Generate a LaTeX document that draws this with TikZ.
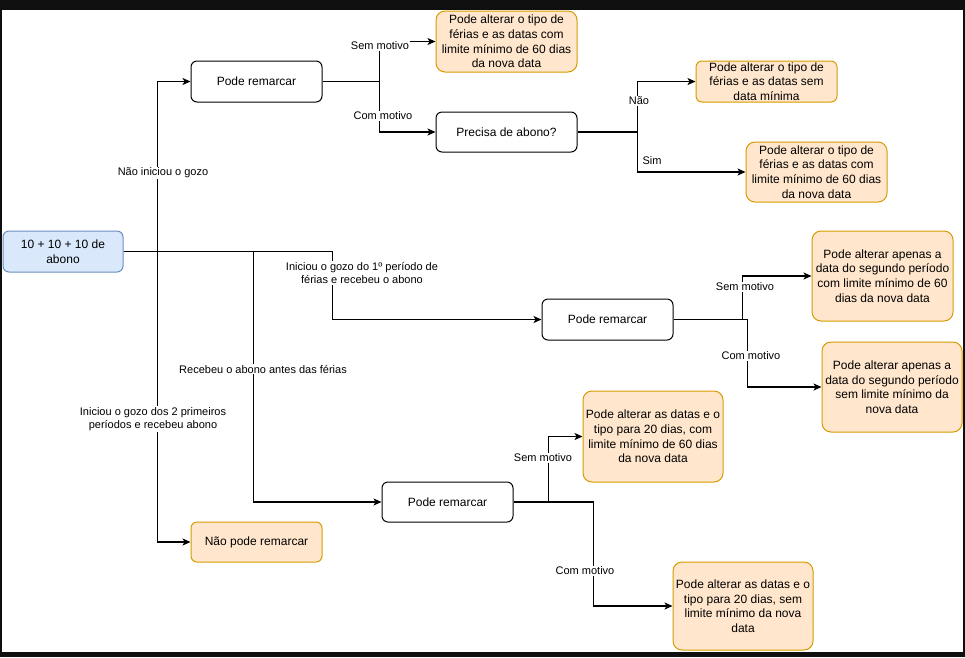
\documentclass[tikz,border=0pt]{standalone}
\usepackage{fontspec}
\setmainfont{Liberation Sans}
\usetikzlibrary{arrows.meta}
\definecolor{orfill}{HTML}{FFE6CC}
\definecolor{ordraw}{HTML}{D79B00}
\definecolor{blfill}{HTML}{DAE8FC}
\definecolor{bldraw}{HTML}{6C8EBF}
\definecolor{frame}{HTML}{0F0F0F}
\tikzset{
  box/.style={draw, line width=1pt, rounded corners=6pt, align=center, inner sep=0pt,
    font=\fontsize{12}{14.6}\selectfont, fill=white},
  plain/.style={box, draw=black},
  orange/.style={box, fill=orfill, draw=ordraw, rounded corners=9pt},
  blue/.style={box, fill=blfill, draw=bldraw},
  conn/.style={draw=black, line width=1.2pt, -{Stealth[length=8pt,width=7pt,inset=2pt]}},
  lbl/.style={fill=white, inner sep=0.8pt, align=center, font=\fontsize{11}{13.5}\selectfont}
}
\begin{document}
\begin{tikzpicture}[x=1pt,y=-1pt]
\fill[frame] (0,0) rectangle (965,657);
\fill[white] (2,10) rectangle (963,652);
\useasboundingbox (0,0) rectangle (965,657);

\node[blue, minimum width=120pt, minimum height=41pt] (start) at (63,251.5) {10 + 10 + 10 de\\abono};
\node[plain, minimum width=131pt, minimum height=41pt] (pr1) at (256.5,81.5) {Pode remarcar};
\node[orange, minimum width=141pt, minimum height=61pt] (o1) at (506.5,41.5) {Pode alterar o tipo de\\férias e as datas com\\limite mínimo de 60 dias\\da nova data};
\node[plain, minimum width=141pt, minimum height=40pt] (precisa) at (506.5,132) {Precisa de abono?};
\node[orange, minimum width=141pt, minimum height=41pt, rounded corners=6pt] (o5) at (766.5,81.5) {Pode alterar o tipo de\\férias e as datas sem\\data mínima};
\node[orange, minimum width=141pt, minimum height=60pt] (o6) at (816.5,172) {Pode alterar o tipo de\\férias e as datas com\\limite mínimo de 60 dias\\da nova data};
\node[plain, minimum width=131pt, minimum height=41pt] (pr2) at (607.5,319.5) {Pode remarcar};
\node[orange, minimum width=141pt, minimum height=90pt] (o8) at (882.5,276) {Pode alterar apenas a\\data do segundo período\\com limite mínimo de 60\\dias da nova data};
\node[orange, minimum width=140pt, minimum height=90pt] (o9) at (892,387) {Pode alterar apenas a\\data do segundo período\\sem limite mínimo da\\nova data};
\node[plain, minimum width=131pt, minimum height=40pt] (pr3) at (447.5,502) {Pode remarcar};
\node[orange, minimum width=140pt, minimum height=91pt] (o11) at (653,436.5) {Pode alterar as datas e o\\tipo para 20 dias, com\\limite mínimo de 60 dias\\da nova data};
\node[orange, minimum width=140pt, minimum height=88pt] (o12) at (743,606) {Pode alterar as datas e o\\tipo para 20 dias, sem\\limite mínimo da nova\\data};
\node[orange, minimum width=131pt, minimum height=40pt, rounded corners=6pt] (npr) at (256.5,542) {Não pode remarcar};

% connectors from start
\draw[conn] (start.east) -- ++(34,0) |- (pr1.west);
\draw[conn] (start.east) -- ++(34,0) |- (npr.west);
\draw[conn] (start.east) -- ++(130,0) |- (pr3.west);
\draw[conn] (start.east) -- ++(209,0) |- (pr2.west);
% from pr1
\draw[conn] (pr1.east) -- ++(57,0) |- (o1.west);
\draw[conn] (pr1.east) -- ++(57,0) |- (precisa.west);
% from precisa
\draw[conn] (precisa.east) -- ++(60,0) |- (o5.west);
\draw[conn] (precisa.east) -- ++(60,0) |- (o6.west);
% from pr2
\draw[conn] (pr2.east) -- ++(69,0) |- (o8.west);
\draw[conn] (pr2.east) -- ++(74,0) |- (o9.west);
% from pr3
\draw[conn] (pr3.east) -- ++(35,0) |- (o11.west);
\draw[conn] (pr3.east) -- ++(80,0) |- (o12.west);

% labels
\node[lbl] (l1) at (163,173) {Não iniciou o gozo};
\node[lbl] (l2) at (153,419) {Iniciou o gozo dos 2 primeiros\\períodos e recebeu abono};
\node[lbl] (l3) at (263,369) {Recebeu o abono antes das férias};
\node[lbl] (l4) at (362,273) {Iniciou o gozo do 1º período de\\férias e recebeu o abono};
\node[lbl] (l5) at (380,46) {Sem motivo};
\node[lbl] (l6) at (383,116) {Com motivo};
\node[lbl] (l7) at (639,101) {Não};
\node[lbl] (l8) at (652,161) {Sim};
\node[lbl] (l9) at (745,287) {Sem motivo};
\node[lbl] (l10) at (751,356) {Com motivo};
\node[lbl] (l11) at (543,458) {Sem motivo};
\node[lbl] (l12) at (585,571) {Com motivo};
\end{tikzpicture}
\end{document}
